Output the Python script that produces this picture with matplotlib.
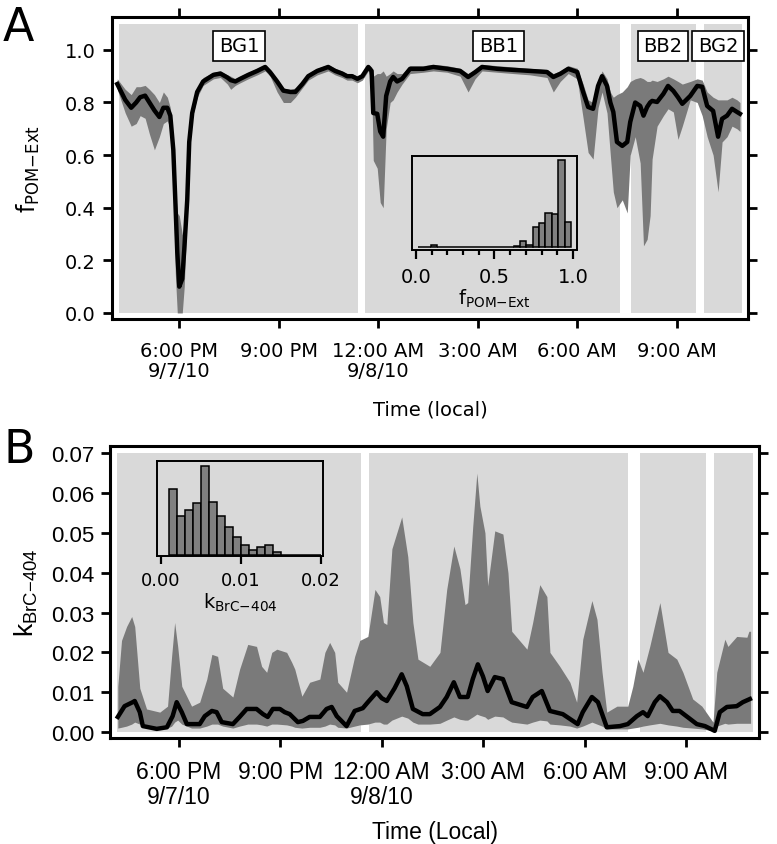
import matplotlib
matplotlib.use("Agg")
import matplotlib.pyplot as plt
import numpy as np

# time axis: hours after midnight of 9/7/10 (24 = 12:00 AM 9/8/10)
tick_hours = [18, 21, 24, 27, 30, 33]
tick_labels = ["6:00 PM\n9/7/10", "9:00 PM", "12:00 AM\n9/8/10", "3:00 AM", "6:00 AM", "9:00 AM"]
periods = [(16.18, 23.39), (23.61, 31.28), (31.62, 33.57), (33.81, 34.97)]
period_names = ["BG1", "BB1", "BB2", "BG2"]
period_label_hours = [19.81, 27.62, 32.59, 34.25]

# panel A: f_POM-Ext, median line and uncertainty band
a_time = [16.13, 16.37, 16.55, 16.7, 16.82, 16.97, 17.1, 17.25, 17.4, 17.52, 17.64, 17.73, 17.82,
          17.88, 17.94, 18.0, 18.09, 18.15, 18.24, 18.3, 18.39, 18.54, 18.72, 19.03, 19.24, 19.45,
          19.55, 19.69, 19.84, 20.08, 20.35, 20.59, 20.74, 20.95, 21.14, 21.35, 21.5, 21.71, 21.89,
          22.16, 22.49, 22.7, 22.91, 23.06, 23.21, 23.37, 23.52, 23.7, 23.8, 23.85, 23.97, 24.06,
          24.15, 24.24, 24.36, 24.45, 24.57, 24.72, 24.96, 25.36, 25.66, 26.08, 26.47, 26.71, 26.92,
          27.13, 27.59, 28.07, 28.58, 29.09, 29.28, 29.49, 29.73, 30.0, 30.18, 30.33, 30.48, 30.63,
          30.75, 30.9, 31.0, 31.09, 31.2, 31.36, 31.51, 31.6, 31.75, 31.9, 32.0, 32.11, 32.2, 32.26,
          32.41, 32.6, 32.74, 32.9, 33.04, 33.17, 33.41, 33.62, 33.77, 33.92, 34.1, 34.25, 34.37,
          34.52, 34.67, 34.82, 34.91]
a_mid = [0.87, 0.81, 0.78, 0.80, 0.82, 0.826, 0.80, 0.77, 0.745, 0.78, 0.78, 0.75, 0.62,
         0.43, 0.23, 0.10, 0.13, 0.24, 0.43, 0.65, 0.76, 0.84, 0.88, 0.905, 0.91, 0.895,
         0.885, 0.88, 0.89, 0.905, 0.92, 0.935, 0.915, 0.88, 0.845, 0.84, 0.84, 0.87, 0.90,
         0.92, 0.935, 0.92, 0.91, 0.90, 0.90, 0.89, 0.90, 0.935, 0.92, 0.76, 0.757, 0.69,
         0.67, 0.825, 0.88, 0.897, 0.88, 0.89, 0.928, 0.928, 0.935, 0.928, 0.92, 0.897, 0.915,
         0.935, 0.928, 0.924, 0.92, 0.916, 0.897, 0.909, 0.928, 0.916, 0.84, 0.783, 0.776, 0.863,
         0.90, 0.863, 0.80, 0.764, 0.65, 0.635, 0.65, 0.726, 0.80, 0.787, 0.75, 0.783, 0.80, 0.806,
         0.802, 0.833, 0.863, 0.844, 0.82, 0.795, 0.825, 0.863, 0.86, 0.787, 0.768, 0.67, 0.738,
         0.75, 0.776, 0.764, 0.757]
a_lo = [0.85, 0.76, 0.71, 0.72, 0.75, 0.74, 0.68, 0.62, 0.67, 0.72, 0.73, 0.70, 0.50,
        0.15, 0.0, 0.0, 0.0, 0.10, 0.40, 0.62, 0.74, 0.82, 0.865, 0.89, 0.895, 0.87,
        0.85, 0.865, 0.875, 0.89, 0.905, 0.92, 0.90, 0.84, 0.80, 0.80, 0.82, 0.855, 0.885,
        0.905, 0.92, 0.905, 0.895, 0.885, 0.885, 0.875, 0.885, 0.92, 0.88, 0.58, 0.55, 0.42,
        0.40, 0.70, 0.80, 0.81, 0.84, 0.87, 0.91, 0.915, 0.92, 0.915, 0.90, 0.84, 0.89,
        0.92, 0.915, 0.91, 0.905, 0.895, 0.84, 0.88, 0.91, 0.89, 0.74, 0.61, 0.585, 0.78,
        0.84, 0.76, 0.60, 0.46, 0.40, 0.43, 0.38, 0.60, 0.67, 0.57, 0.255, 0.28, 0.37, 0.585,
        0.71, 0.75, 0.776, 0.764, 0.66, 0.71, 0.81, 0.80, 0.75, 0.67, 0.60, 0.46, 0.65,
        0.67, 0.71, 0.70, 0.69]
a_hi = [0.89, 0.85, 0.83, 0.86, 0.86, 0.865, 0.85, 0.83, 0.80, 0.84, 0.82, 0.78, 0.66,
        0.48, 0.38, 0.37, 0.30, 0.28, 0.46, 0.67, 0.78, 0.855, 0.895, 0.915, 0.92, 0.905,
        0.90, 0.89, 0.90, 0.915, 0.93, 0.945, 0.925, 0.89, 0.855, 0.85, 0.855, 0.88, 0.91,
        0.93, 0.945, 0.93, 0.92, 0.91, 0.91, 0.90, 0.91, 0.945, 0.935, 0.90, 0.91, 0.91,
        0.92, 0.90, 0.91, 0.92, 0.91, 0.91, 0.94, 0.94, 0.945, 0.94, 0.93, 0.91, 0.925,
        0.945, 0.94, 0.935, 0.93, 0.925, 0.91, 0.92, 0.94, 0.93, 0.87, 0.81, 0.80, 0.88,
        0.92, 0.89, 0.84, 0.82, 0.83, 0.84, 0.86, 0.88, 0.89, 0.895, 0.89, 0.88, 0.88, 0.885,
        0.88, 0.89, 0.90, 0.89, 0.88, 0.87, 0.88, 0.89, 0.885, 0.84, 0.82, 0.81, 0.81,
        0.81, 0.82, 0.81, 0.80]

# panel A inset histogram of f_POM-Ext (24 bins)
hist_a_start = 0.012
hist_a_width = 0.0406
hist_a_counts = [0, 0, 1.3, 0, 0, 0, 0, 0, 0, 0, 0, 0, 0, 0, 0, 1, 6, 1.5, 19.5, 23, 33, 32, 86, 24.5]

# panel B: k_BrC-404 line
b_time = [16.2, 16.4, 16.64, 16.7, 16.85, 16.94, 17.35, 17.65, 17.82, 17.94, 18.09, 18.24, 18.62,
          18.77, 18.98, 19.12, 19.27, 19.6, 19.8, 20.01, 20.3, 20.49, 20.63, 20.78, 20.99, 21.13,
          21.28, 21.52, 21.67, 21.87, 22.17, 22.37, 22.52, 22.67, 22.96, 23.2, 23.44, 23.59, 23.85,
          24.0, 24.15, 24.38, 24.59, 24.74, 24.92, 25.21, 25.42, 25.72, 25.92, 26.13, 26.31, 26.54,
          26.69, 26.84, 26.99, 27.13, 27.34, 27.58, 27.84, 28.29, 28.46, 28.73, 28.97, 29.35, 29.79,
          29.94, 30.21, 30.39, 30.65, 31.04, 31.27, 31.54, 31.72, 31.86, 32.07, 32.22, 32.43, 32.6,
          32.8, 33.11, 33.31, 33.55, 33.84, 33.99, 34.2, 34.49, 34.67, 34.88]
b_mid = [0.0038, 0.0065, 0.0075, 0.0078, 0.005, 0.0015, 0.0008, 0.0012, 0.004, 0.0075, 0.005, 0.002, 0.002,
         0.004, 0.0053, 0.005, 0.0025, 0.002, 0.0038, 0.0058, 0.0058, 0.0045, 0.0038, 0.0058, 0.0058, 0.005,
         0.0045, 0.0025, 0.0028, 0.0038, 0.0038, 0.0058, 0.0063, 0.004, 0.0015, 0.0053, 0.006, 0.0075, 0.010,
         0.0085, 0.0078, 0.011, 0.0145, 0.0115, 0.0058, 0.0045, 0.0045, 0.0063, 0.0088, 0.0125, 0.0088, 0.0088,
         0.0133, 0.017, 0.014, 0.0103, 0.0138, 0.0133, 0.0075, 0.0063, 0.0088, 0.0103, 0.0053, 0.0045, 0.002,
         0.005, 0.0088, 0.0075, 0.0012, 0.0015, 0.002, 0.004, 0.005, 0.004, 0.0075, 0.009, 0.0075, 0.0053,
         0.0053, 0.0033, 0.002, 0.0015, 0.0003, 0.005, 0.0063, 0.0065, 0.0075, 0.0083]

# panel B uncertainty band
b_band_time = [16.2, 16.31, 16.46, 16.61, 16.7, 16.85, 17.05, 17.44, 17.67, 17.79, 17.88, 17.97, 18.09,
               18.38, 18.62, 18.83, 18.98, 19.15, 19.3, 19.6, 19.8, 20.04, 20.3, 20.45, 20.6, 20.75,
               20.9, 21.19, 21.34, 21.43, 21.64, 21.87, 22.17, 22.32, 22.46, 22.61, 22.7, 22.96, 23.2,
               23.35, 23.59, 23.8, 23.94, 24.05, 24.15, 24.3, 24.59, 24.77, 24.92, 25.07, 25.42, 25.72,
               25.92, 26.13, 26.31, 26.46, 26.54, 26.69, 26.81, 26.9, 27.05, 27.13, 27.34, 27.58, 27.73,
               27.84, 28.29, 28.46, 28.67, 28.88, 28.97, 29.26, 29.56, 29.76, 29.94, 30.21, 30.36, 30.51,
               30.65, 30.95, 31.27, 31.42, 31.57, 31.72, 31.92, 32.22, 32.46, 32.72, 32.9, 33.19, 33.46,
               33.79, 33.9, 34.14, 34.23, 34.49, 34.79, 34.85, 34.9]
b_hi = [0.0115, 0.023, 0.0265, 0.029, 0.0265, 0.011, 0.0058, 0.005, 0.0065, 0.019, 0.0275, 0.0215, 0.0115,
        0.0065, 0.0075, 0.0133, 0.0195, 0.019, 0.011, 0.0088, 0.0158, 0.022, 0.0215, 0.0165, 0.015, 0.020,
        0.0208, 0.020, 0.0175, 0.0158, 0.009, 0.0125, 0.0133, 0.020, 0.0225, 0.020, 0.0125, 0.010, 0.019,
        0.023, 0.024, 0.0358, 0.034, 0.0275, 0.027, 0.046, 0.054, 0.044, 0.0275, 0.0183, 0.0165, 0.020,
        0.0358, 0.0467, 0.041, 0.032, 0.0325, 0.0517, 0.065, 0.0567, 0.050, 0.0367, 0.0505, 0.0497, 0.040,
        0.0253, 0.0208, 0.0275, 0.037, 0.034, 0.020, 0.0165, 0.0125, 0.0075, 0.0233, 0.033, 0.0283, 0.015,
        0.005, 0.0065, 0.0065, 0.0115, 0.0183, 0.015, 0.0215, 0.0325, 0.020, 0.0183, 0.015, 0.0083, 0.0065,
        0.0025, 0.015, 0.0233, 0.0215, 0.024, 0.0238, 0.0253, 0.0253]
b_lo = [0.001, 0.0012, 0.0015, 0.002, 0.0025, 0.002, 0.0012, 0.001, 0.001, 0.0015, 0.0025, 0.003, 0.002,
        0.001, 0.001, 0.0015, 0.002, 0.002, 0.0015, 0.001, 0.0015, 0.002, 0.002, 0.0018, 0.0015, 0.002,
        0.002, 0.0018, 0.0015, 0.0012, 0.001, 0.0012, 0.0012, 0.0015, 0.002, 0.0018, 0.0012, 0.001, 0.0015,
        0.0018, 0.002, 0.0025, 0.0025, 0.002, 0.002, 0.003, 0.004, 0.0035, 0.0025, 0.002, 0.002, 0.0022,
        0.003, 0.0038, 0.0032, 0.003, 0.003, 0.0038, 0.0045, 0.0042, 0.0038, 0.0032, 0.004, 0.0038, 0.003,
        0.0025, 0.002, 0.0025, 0.003, 0.0028, 0.002, 0.0018, 0.0015, 0.001, 0.0015, 0.0025, 0.002, 0.0015,
        0.0008, 0.0008, 0.0008, 0.001, 0.0012, 0.0015, 0.0018, 0.0022, 0.0018, 0.0015, 0.0012, 0.001, 0.0008,
        0.0003, 0.0015, 0.0022, 0.002, 0.0022, 0.0022, 0.0022, 0.0022]

# panel B inset histogram of k_BrC-404 (bins of 0.001 from 0.001)
hist_b_start = 0.001
hist_b_width = 0.001
hist_b_counts = [66, 39, 45, 52, 89, 53, 39, 28, 18, 10, 5, 8, 10, 3, 0, 0, 0, 0, 0]

LIGHT = "#d9d9d9"
DARK = "#7a7a7a"
FONT_A = "DejaVu Sans"
FONT_B = ["Liberation Sans", "DejaVu Sans"]


def shade_periods(ax, top):
    for t0, t1 in periods:
        ax.fill_between([t0, t1], 0, top, color=LIGHT, lw=0, zorder=0)


def style_main(ax, font, size):
    for s in ax.spines.values():
        s.set_linewidth(2.2)
    ax.tick_params(direction="out", length=6.5, width=2.0, labelsize=size,
                   labelfontfamily=font, pad=5)
    ax.set_xlim(15.97, 35.15)
    ax.set_xticks(tick_hours)


def main():
    fig = plt.figure(figsize=(7.77, 8.45), dpi=100)

    # ---- panel A
    axA = fig.add_axes([0.1441, 0.6213, 0.8185, 0.3574])
    shade_periods(axA, 1.1)
    axA.fill_between(a_time, a_lo, a_hi, color=DARK, lw=0, zorder=1)
    axA.plot(a_time, a_mid, color="black", lw=3.2, solid_joinstyle="round", zorder=2)
    axA.set_ylim(-0.023, 1.125)
    axA.set_yticks([0.0, 0.2, 0.4, 0.6, 0.8, 1.0])
    style_main(axA, FONT_A, 14)
    axA.set_xticklabels(tick_labels, linespacing=1.1)
    axA.tick_params(top=True, right=True, labeltop=False, labelright=False)
    axA.tick_params(axis="x", pad=9)
    axA.set_ylabel(r"$\mathregular{f_{POM{-}Ext}}$", fontsize=17, family=FONT_A)
    axA.yaxis.set_label_coords(-0.11, 0.5)
    axA.set_xlabel("Time (local)", fontsize=14, family=FONT_A)
    axA.xaxis.set_label_coords(0.5, -0.268)
    for name, t in zip(period_names, period_label_hours):
        axA.text(t, 1.015, name, ha="center", va="center", fontsize=14, family=FONT_A,
                 bbox=dict(boxstyle="square,pad=0.3", fc="white", ec="black", lw=1.2), zorder=5)

    insA = fig.add_axes([0.5302, 0.7030, 0.2124, 0.1112])
    insA.patch.set_alpha(0)
    lefts = hist_a_start + hist_a_width * np.arange(len(hist_a_counts))
    insA.bar(lefts, hist_a_counts, width=hist_a_width, align="edge", color="#808080",
             edgecolor="black", lw=1.1)
    insA.set_xlim(-0.025, 1.025)
    insA.set_ylim(-3.4, 90)
    insA.set_yticks([])
    insA.set_xticks([0.0, 0.5, 1.0])
    insA.set_xticks(np.arange(0, 1.01, 0.1), minor=True)
    insA.tick_params(which="major", direction="out", length=6.5, width=1.6, labelsize=14,
                     labelfontfamily=FONT_A, pad=6)
    insA.tick_params(which="minor", direction="out", length=3.5, width=1.6)
    for s in insA.spines.values():
        s.set_linewidth(1.4)
    insA.set_xlabel(r"$\mathregular{f_{POM{-}Ext}}$", fontsize=14, family=FONT_A, labelpad=0)

    # ---- panel B
    axB = fig.add_axes([0.1416, 0.1254, 0.8353, 0.3456])
    shade_periods(axB, 0.07)
    axB.fill_between(b_band_time, b_lo, b_hi, color=DARK, lw=0, zorder=1)
    axB.plot(b_time, b_mid, color="black", lw=3.2, solid_joinstyle="round", zorder=2)
    axB.set_ylim(-0.0015, 0.0718)
    axB.set_yticks([0.0, 0.01, 0.02, 0.03, 0.04, 0.05, 0.06, 0.07])
    axB.set_yticklabels(["0.00", "0.01", "0.02", "0.03", "0.04", "0.05", "0.06", "0.07"])
    style_main(axB, FONT_B, 16)
    axB.set_xticklabels(tick_labels, linespacing=1.15, fontsize=16.5)
    axB.tick_params(right=True, labelright=False)
    axB.tick_params(axis="x", pad=9)
    axB.set_ylabel(r"$\mathregular{k_{BrC{-}404}}$", fontsize=19, family=FONT_B)
    axB.yaxis.set_label_coords(-0.108, 0.5)
    axB.set_xlabel("Time (Local)", fontsize=16.5, family=FONT_B)
    axB.xaxis.set_label_coords(0.5, -0.28)

    insB = fig.add_axes([0.2021, 0.3408, 0.2136, 0.1124])
    insB.patch.set_alpha(0)
    lefts = hist_b_start + hist_b_width * np.arange(len(hist_b_counts))
    insB.bar(lefts, hist_b_counts, width=hist_b_width, align="edge", color="#808080",
             edgecolor="black", lw=1.1)
    insB.set_xlim(-0.0005, 0.02025)
    insB.set_ylim(-1, 94)
    insB.set_yticks([])
    insB.set_xticks([0.0, 0.01, 0.02])
    insB.set_xticklabels(["0.00", "0.01", "0.02"])
    insB.tick_params(direction="out", length=6, width=1.6, labelsize=13,
                     labelfontfamily=FONT_A, pad=5)
    for s in insB.spines.values():
        s.set_linewidth(1.4)
    insB.set_xlabel(r"$\mathregular{k_{BrC{-}404}}$", fontsize=14, family=FONT_A, labelpad=1)

    # panel letters
    fig.text(0.004, 0.993, "A", fontsize=33, family=FONT_A, va="top")
    fig.text(0.004, 0.493, "B", fontsize=33, family=FONT_A, va="top")

    fig.savefig("out.png", dpi=100)


if __name__ == "__main__":
    main()
